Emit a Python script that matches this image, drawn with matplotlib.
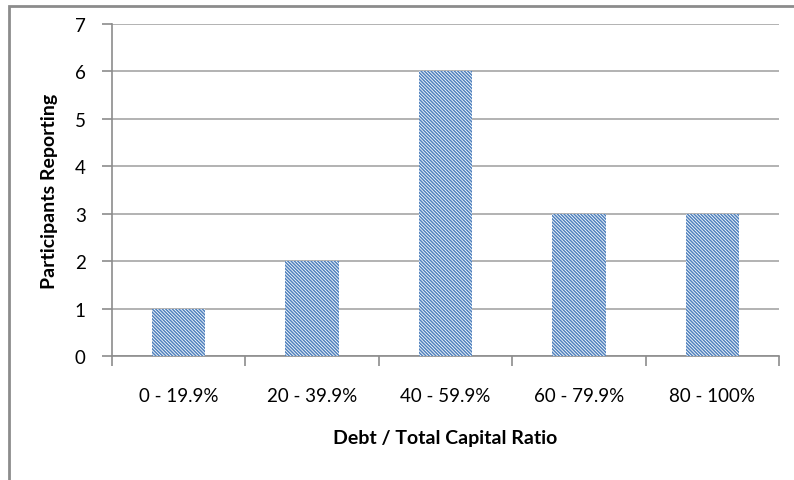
import matplotlib
matplotlib.use("Agg")
import matplotlib.pyplot as plt
from matplotlib.patches import Rectangle
import numpy as np

categories = ["0 - 19.9%", "20 - 39.9%", "40 - 59.9%", "60 - 79.9%", "80 - 100%"]
participants = [1, 2, 6, 3, 3]

plt.rcParams['font.family'] = ['Lato', 'DejaVu Sans']
plt.rcParams['hatch.linewidth'] = 1.1
plt.rcParams['hatch.color'] = '#4f81bd'

fig = plt.figure(figsize=(7.94, 4.81), dpi=100)
ax = fig.add_axes([0.1411, 0.2578, 0.84, 0.6902])

x = np.arange(len(categories))
ax.bar(x, participants, width=0.4, color='white', edgecolor='#4f81bd',
       linewidth=0, hatch='\\' * 10, zorder=3)

ax.set_xlim(-0.5, len(categories) - 0.5)
ax.set_ylim(0, 7)
ax.set_yticks(range(0, 8))
ax.yaxis.grid(True, color='#a6a6a6', linewidth=1.2, zorder=0)

ax.set_xticks(x)
ax.set_xticklabels(categories, fontsize=13.5)
ax.set_xticks(np.arange(-0.5, len(categories)), minor=True)
ax.tick_params(axis='x', which='major', length=0, pad=22)
ax.tick_params(axis='x', which='minor', length=7, color='#8c8c8c', width=1.2)
ax.tick_params(axis='y', length=7, color='#8c8c8c', width=1.2, labelsize=13.5, pad=12)

for s in ['top', 'right']:
    ax.spines[s].set_visible(False)
for s in ['left', 'bottom']:
    ax.spines[s].set_color('#8c8c8c')
    ax.spines[s].set_linewidth(1.2)

ax.set_xlabel("Debt / Total Capital Ratio", fontsize=14, fontweight='bold', labelpad=18)
ax.set_ylabel("Participants Reporting", fontsize=14, fontweight='bold', labelpad=12)

# outer chart border (cut at right and bottom in the source)
fig.patches.append(Rectangle((9 / 794, -0.1), 1.2, 1 - 7 / 481 + 0.1,
                             transform=fig.transFigure, fill=False,
                             edgecolor='#8c8c8c', linewidth=2))

fig.savefig("out.png", dpi=100)
